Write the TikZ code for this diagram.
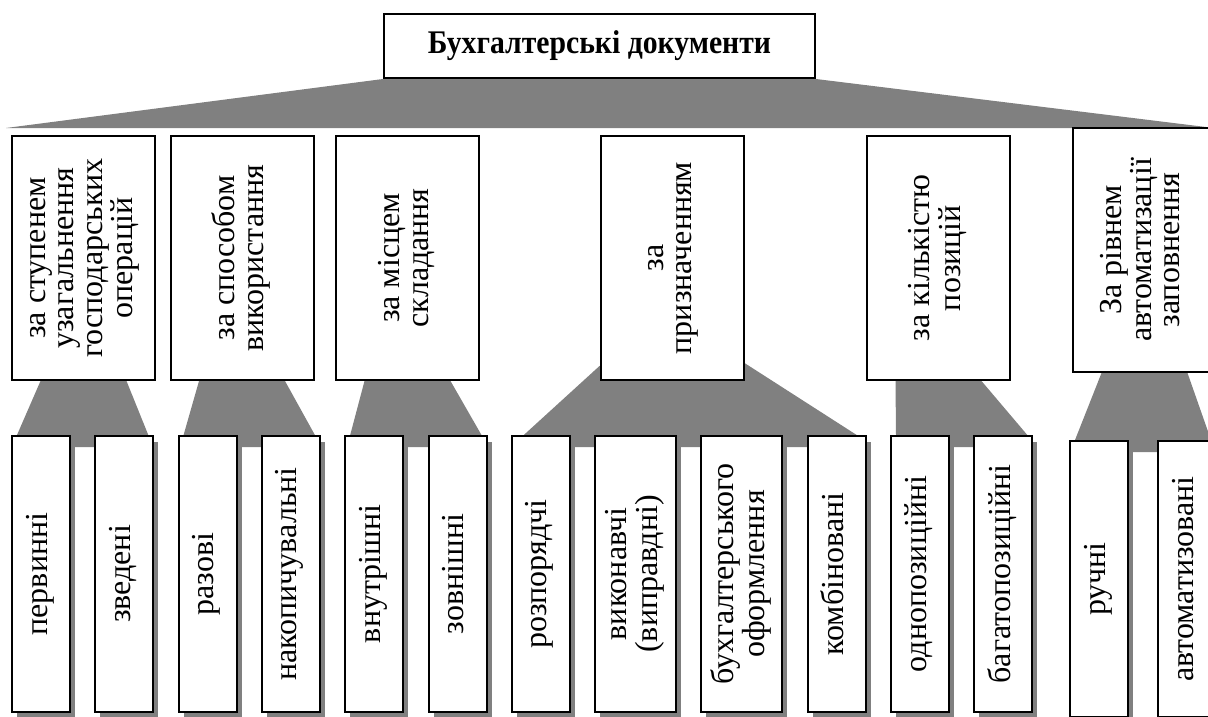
\documentclass[tikz,border=0pt]{standalone}
\usepackage{fontspec}
\setmainfont{Liberation Serif}
\usetikzlibrary{positioning, shadows, backgrounds, calc}
\newcommand{\vtext}[1]{\rotatebox{90}{\begin{tabular}{@{}c@{}}#1\end{tabular}}}
\tikzset{
	root/.style={
		draw,
		line width=2pt,
		fill=white,
		minimum width=431pt,
		minimum height=64pt,
		font=\fontsize{33}{30}\selectfont\bfseries
	},
	criterion/.style={
		draw,
		line width=2pt,
		fill=white,
		inner sep=0pt,
		minimum width=143pt,
		minimum height=244pt,
		font=\fontsize{32}{28.5}\selectfont
	},
	kind/.style={
		draw,
		line width=2pt,
		fill=white,
		inner sep=0pt,
		minimum width=58pt,
		minimum height=276pt,
		font=\fontsize{32}{30}\selectfont,
		drop shadow={shadow xshift=5pt, shadow yshift=-6pt, fill=black!50, opacity=1}
	},
	wideKind/.style={
		kind,
		minimum width=81pt
	},
	link/.style={
		fill=black!50
	},
}

\begin{document}
\begin{tikzpicture}[x=1pt, y=-1pt, node distance=23.3pt]
	\useasboundingbox (0,0) rectangle (1208,717);

	% root
	\node [root] (docs) at (599.5,46) {\scalebox{0.9}[1]{Бухгалтерські документи}};
	\coordinate (tipL) at (6,128);
	\coordinate (tipR) at (1214,128);

	% criteria
	\node [criterion] (crit1) at (83.5,258) {\vtext{за ступенем\\узагальнення\\господарських\\операцій}};
	\node [criterion] (crit2) at (242,258) {\vtext{за способом\\використання}};
	\node [criterion] (crit3) at (407.5,258) {\vtext{за місцем\\складання}};
	\node [criterion] (crit4) at (672,258) {\vtext{за\\призначенням}};
	\node [criterion] (crit5) at (938.5,258) {\vtext{за кількістю\\позицій}};
	\node [criterion] (crit6) at (1144.5,250) {\vtext{За рівнем\\автоматизації\\заповнення}};

	% kinds
	\node [kind] (k1a) at (41,574) {\vtext{первинні}};
	\node [kind, right=of k1a] (k1b) {\vtext{зведені}};
	\node [kind, right=of k1b] (k2a) {\vtext{разові}};
	\node [kind, right=of k2a] (k2b) {\vtext{накопичувальні}};
	\node [kind, right=of k2b] (k3a) {\vtext{внутрішні}};
	\node [kind, right=of k3a] (k3b) {\vtext{зовнішні}};
	\node [kind, right=of k3b] (k4a) {\vtext{розпорядчі}};
	\node [wideKind, right=of k4a] (k4b) {\vtext{виконавчі\\(виправдні)}};
	\node [wideKind, right=of k4b] (k4c) {\vtext{бухгалтерського\\оформлення}};
	\node [kind, right=of k4c] (k4d) {\vtext{комбіновані}};
	\node [kind, right=of k4d] (k5a) {\vtext{однопозиційні}};
	\node [kind, right=of k5a] (k5b) {\vtext{багатопозиційні}};
	\node [kind] (k6a) at (1099,579) {\vtext{ручні}};
	\node [kind, right=28pt of k6a] (k6b) {\vtext{автоматизовані}};

	% grey links
	\begin{scope}[on background layer]
		\fill [link] (docs.south west) -- (docs.south east) -- (tipR) -- (tipL) -- cycle;
		\foreach \c/\l/\r in {crit1/k1a/k1b, crit2/k2a/k2b, crit3/k3a/k3b, crit5/k5a/k5b, crit6/k6a/k6b}
			\fill [link] ($(\c.south)+(-43,0)$) -- ($(\c.south)+(43,0)$) -- ($(\r.north east)+(-6,0)$)
				-- ($(\r.north east)+(-6,12)$) -- ($(\l.north west)+(6,12)$) -- ($(\l.north west)+(6,0)$) -- cycle;
		\fill [link] ($(crit4.south west)+(0,-15)$) -- ($(crit4.south east)+(0,-18)$) -- ($(k4d.north east)+(-10,0)$)
			-- ($(k4d.north east)+(-10,12)$) -- ($(k4a.north west)+(13,12)$) -- ($(k4a.north west)+(13,0)$) -- cycle;
	\end{scope}
\end{tikzpicture}
\end{document}
